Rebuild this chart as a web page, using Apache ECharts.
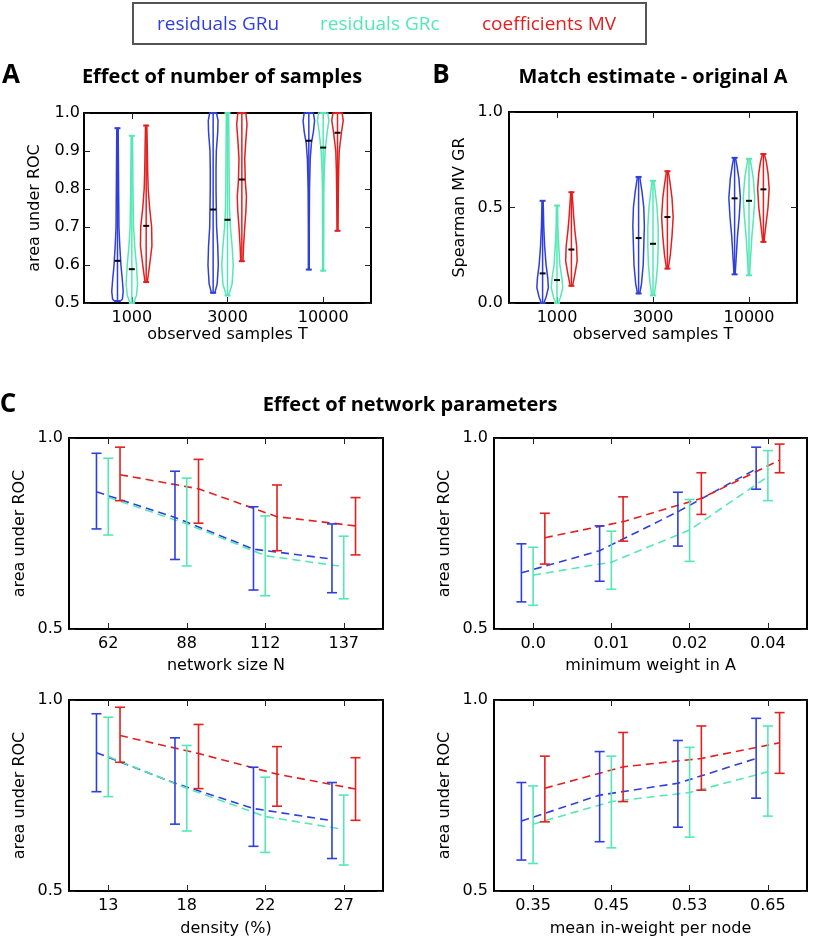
<!DOCTYPE html>
<html><head><meta charset="utf-8">
<script src="https://cdn.jsdelivr.net/npm/echarts@6/dist/echarts.min.js"></script>
<style>html,body{margin:0;padding:0;background:#fff}#c{width:816px;height:942px}</style>
</head><body><div id="c"></div>
<script>
// ---------------- DATA ----------------
const seriesNames = ['residuals GRu', 'residuals GRc', 'coefficients MV'];
const sampleCats = ['1000', '3000', '10000'];

// Panel A: area under ROC violins (median + density profile [value, relative density])
const A_GRu_median = [0.611, 0.746, 0.927];
const A_GRc_median = [0.589, 0.719, 0.909];
const A_MV_median  = [0.703, 0.825, 0.948];
const A_GRu_profile = [
  [[0.505,0.5],[0.51,0.85],[0.53,1],[0.56,0.85],[0.60,0.6],[0.65,0.4],[0.70,0.25],[0.80,0.2],[0.90,0.15],[0.96,0.12]],
  [[0.527,0.3],[0.55,0.7],[0.60,0.9],[0.65,0.8],[0.70,0.6],[0.75,0.55],[0.80,0.5],[0.85,0.5],[0.90,0.55],[0.95,0.8],[0.98,0.85],[1.0,0.6]],
  [[0.588,0.08],[0.70,0.08],[0.80,0.12],[0.88,0.25],[0.92,0.45],[0.95,0.8],[0.98,1],[1.0,0.8]]
];
const A_GRc_profile = [
  [[0.50,0.3],[0.52,0.8],[0.55,1],[0.60,0.8],[0.65,0.5],[0.70,0.3],[0.80,0.2],[0.94,0.12]],
  [[0.52,0.2],[0.55,0.8],[0.60,1],[0.65,0.8],[0.70,0.5],[0.75,0.35],[0.80,0.3],[0.90,0.25],[1.0,0.2]],
  [[0.585,0.08],[0.80,0.12],[0.85,0.2],[0.90,0.35],[0.95,0.7],[0.98,1],[1.0,0.8]]
];
const A_MV_profile = [
  [[0.555,0.2],[0.60,0.6],[0.65,1],[0.70,0.95],[0.75,0.6],[0.80,0.35],[0.85,0.25],[0.90,0.2],[0.967,0.12]],
  [[0.61,0.2],[0.65,0.3],[0.70,0.5],[0.74,0.7],[0.78,0.8],[0.82,0.6],[0.88,0.5],[0.93,0.7],[0.97,0.9],[1.0,0.7]],
  [[0.69,0.08],[0.80,0.15],[0.85,0.2],[0.90,0.3],[0.95,0.7],[0.98,1],[1.0,0.8]]
];

// Panel B: Spearman MV GR violins
const B_GRu_median = [0.155, 0.340, 0.548];
const B_GRc_median = [0.120, 0.310, 0.535];
const B_MV_median  = [0.280, 0.450, 0.595];
const B_GRu_profile = [
  [[0.0,0.2],[0.03,0.6],[0.08,1],[0.13,0.9],[0.20,0.6],[0.30,0.35],[0.40,0.2],[0.535,0.1]],
  [[0.05,0.2],[0.10,0.5],[0.20,0.8],[0.30,0.9],[0.40,1],[0.50,0.9],[0.58,0.6],[0.66,0.2]],
  [[0.15,0.1],[0.25,0.3],[0.35,0.5],[0.45,0.8],[0.55,1],[0.65,0.75],[0.72,0.4],[0.76,0.15]]
];
const B_GRc_profile = [
  [[0.0,0.2],[0.03,0.6],[0.08,1],[0.13,0.85],[0.20,0.5],[0.30,0.3],[0.40,0.15],[0.51,0.1]],
  [[0.04,0.2],[0.10,0.5],[0.20,0.8],[0.30,0.9],[0.40,0.9],[0.50,0.7],[0.58,0.4],[0.64,0.15]],
  [[0.145,0.1],[0.25,0.3],[0.35,0.5],[0.45,0.8],[0.55,1],[0.65,0.75],[0.72,0.4],[0.755,0.15]]
];
const B_MV_profile = [
  [[0.09,0.2],[0.15,0.6],[0.22,1],[0.30,0.9],[0.38,0.6],[0.45,0.4],[0.52,0.25],[0.58,0.1]],
  [[0.18,0.15],[0.25,0.5],[0.35,0.8],[0.45,1],[0.55,0.8],[0.62,0.5],[0.69,0.15]],
  [[0.32,0.1],[0.40,0.4],[0.50,0.8],[0.60,1],[0.68,0.8],[0.74,0.5],[0.78,0.15]]
];

// Panel C: network size N
const sizeCats = ['62', '88', '112', '137'];
const size_GRu_mean = [0.859, 0.792, 0.709, 0.683];
const size_GRu_low  = [0.762, 0.682, 0.602, 0.595];
const size_GRu_high = [0.960, 0.913, 0.820, 0.775];
const size_GRc_mean = [0.845, 0.775, 0.692, 0.663];
const size_GRc_low  = [0.746, 0.665, 0.587, 0.579];
const size_GRc_high = [0.947, 0.895, 0.796, 0.743];
const size_MV_mean  = [0.904, 0.867, 0.794, 0.770];
const size_MV_low   = [0.836, 0.777, 0.705, 0.694];
const size_MV_high  = [0.976, 0.944, 0.877, 0.844];

// Panel C: minimum weight in A
const minwCats = ['0.0', '0.01', '0.02', '0.04'];
const minw_GRu_mean = [0.647, 0.705, 0.807, 0.919];
const minw_GRu_low  = [0.571, 0.625, 0.717, 0.866];
const minw_GRu_high = [0.723, 0.770, 0.858, 0.976];
const minw_GRc_mean = [0.641, 0.675, 0.759, 0.899];
const minw_GRc_low  = [0.562, 0.604, 0.677, 0.836];
const minw_GRc_high = [0.714, 0.756, 0.839, 0.967];
const minw_MV_mean  = [0.739, 0.781, 0.842, 0.942];
const minw_MV_low   = [0.670, 0.730, 0.800, 0.909];
const minw_MV_high  = [0.803, 0.846, 0.909, 0.984];

// Panel C: density (%)
const densCats = ['13', '18', '22', '27'];
const dens_GRu_mean = [0.862, 0.782, 0.716, 0.684];
const dens_GRu_low  = [0.760, 0.675, 0.617, 0.585];
const dens_GRu_high = [0.964, 0.901, 0.824, 0.784];
const dens_GRc_mean = [0.852, 0.769, 0.695, 0.661];
const dens_GRc_low  = [0.747, 0.657, 0.601, 0.568];
const dens_GRc_high = [0.955, 0.881, 0.798, 0.751];
const dens_MV_mean  = [0.907, 0.860, 0.806, 0.767];
const dens_MV_low   = [0.837, 0.768, 0.722, 0.685];
const dens_MV_high  = [0.981, 0.936, 0.878, 0.849];

// Panel C: mean in-weight per node
const inwCats = ['0.35', '0.45', '0.53', '0.65'];
const inw_GRu_mean = [0.683, 0.751, 0.782, 0.847];
const inw_GRu_low  = [0.581, 0.629, 0.667, 0.743];
const inw_GRu_high = [0.784, 0.865, 0.894, 0.952];
const inw_GRc_mean = [0.675, 0.734, 0.758, 0.812];
const inw_GRc_low  = [0.572, 0.613, 0.641, 0.696];
const inw_GRc_high = [0.775, 0.853, 0.876, 0.932];
const inw_MV_mean  = [0.769, 0.825, 0.847, 0.888];
const inw_MV_low   = [0.681, 0.734, 0.764, 0.808];
const inw_MV_high  = [0.853, 0.915, 0.932, 0.967];

// ---------------- STYLE ----------------
const COLORS = ['#2f3fdc', '#55e8b4', '#e3201f'];
const OFFSETS = [-0.15, 0, 0.15];
const AX_FONT = 'DejaVu Sans';
const AX_SIZE = 16;
const TITLE_FONT = 'Open Sans';

const grids = [
  {left: 84, top: 113, width: 287, height: 190},
  {left: 509, top: 112, width: 288, height: 191},
  {left: 69, top: 438, width: 314, height: 191},
  {left: 494, top: 438, width: 313, height: 191},
  {left: 69, top: 700, width: 314, height: 191},
  {left: 494, top: 700, width: 313, height: 191}
];

const xAxes = [], yAxes = [], series = [];
const axLine = {show: true, onZero: false, lineStyle: {color: '#000', width: 2}};
const axTick = {show: true, inside: true, length: 6, alignWithLabel: true, interval: 0, lineStyle: {color: '#222', width: 1}};

function addAxes(gi, cats, xName, xGap, yMin, yMax, yInt, yName, yMargin) {
  xAxes.push({type: 'category', gridIndex: gi, data: cats, position: 'bottom', boundaryGap: true,
    axisLine: axLine, axisTick: axTick, splitLine: {show: false},
    axisLabel: {interval: 0, color: '#000', fontFamily: AX_FONT, fontSize: AX_SIZE, margin: 7},
    name: xName, nameLocation: 'middle', nameGap: xGap,
    nameTextStyle: {color: '#000', fontFamily: AX_FONT, fontSize: AX_SIZE}});
  xAxes.push({type: 'category', gridIndex: gi, data: cats, position: 'top', boundaryGap: true,
    axisLine: axLine, axisTick: axTick, axisLabel: {show: false}, splitLine: {show: false}});
  xAxes.push({type: 'value', gridIndex: gi, min: -0.5, max: cats.length - 0.5, show: false});
  yAxes.push({type: 'value', gridIndex: gi, min: yMin, max: yMax, interval: yInt, position: 'left',
    axisLine: axLine, axisTick: {show: true, inside: true, length: 6, lineStyle: {color: '#222', width: 1}},
    splitLine: {show: false},
    axisLabel: {color: '#000', fontFamily: AX_FONT, fontSize: AX_SIZE, margin: yMargin, formatter: v => v.toFixed(1)},
    name: yName, nameLocation: 'middle', nameGap: 41,
    nameTextStyle: {color: '#000', fontFamily: AX_FONT, fontSize: AX_SIZE}});
  yAxes.push({type: 'value', gridIndex: gi, min: yMin, max: yMax, interval: yInt, position: 'right',
    axisLine: axLine, axisTick: {show: true, inside: true, length: 6, lineStyle: {color: '#222', width: 1}},
    splitLine: {show: false}, axisLabel: {show: false}});
}

function addViolins(gi, cats, medians, profiles) {
  for (let s = 0; s < 3; s++) {
    const prof = profiles[s];
    const color = COLORS[s];
    series.push({
      type: 'custom', name: seriesNames[s], xAxisIndex: gi * 3 + 2, yAxisIndex: gi * 2,
      clip: false,
      data: cats.map((c, i) => [i + OFFSETS[s], medians[s][i]]),
      encode: {x: 0, y: 1},
      renderItem: function (params, api) {
        const p = prof[params.dataIndex];
        const xc = api.value(0);
        const half = api.size([1, 0])[0] * 0.06;
        const left = [], right = [];
        p.forEach(([v, w]) => {
          const pt = api.coord([xc, v]);
          left.push([pt[0] - w * half, pt[1]]);
          right.push([pt[0] + w * half, pt[1]]);
        });
        const pts = left.concat(right.reverse());
        const bot = api.coord([xc, p[0][0]]);
        const top = api.coord([xc, p[p.length - 1][0]]);
        const med = api.coord([xc, api.value(1)]);
        return {type: 'group', children: [
          {type: 'polygon', shape: {points: pts}, style: {fill: 'rgba(0,0,0,0)', stroke: color, lineWidth: 1.5}},
          {type: 'line', shape: {x1: bot[0], y1: bot[1], x2: top[0], y2: top[1]}, style: {stroke: color, lineWidth: 1.5}},
          {type: 'line', shape: {x1: bot[0] - 3, y1: bot[1], x2: bot[0] + 3, y2: bot[1]}, style: {stroke: color, lineWidth: 2}},
          {type: 'line', shape: {x1: top[0] - 3, y1: top[1], x2: top[0] + 3, y2: top[1]}, style: {stroke: color, lineWidth: 2}},
          {type: 'line', shape: {x1: med[0] - 3, y1: med[1], x2: med[0] + 3, y2: med[1]}, style: {stroke: '#000', lineWidth: 2}}
        ]};
      }
    });
  }
}

function addErrorPanel(gi, cats, means, lows, highs) {
  for (let s = 0; s < 3; s++) {
    const color = COLORS[s];
    series.push({
      type: 'line', name: seriesNames[s], xAxisIndex: gi * 3 + 2, yAxisIndex: gi * 2,
      data: cats.map((c, i) => [i + OFFSETS[s], means[s][i]]),
      symbol: 'none', lineStyle: {color: color, width: 1.6, type: [8, 5]}, z: 2, silent: true
    });
    series.push({
      type: 'custom', name: seriesNames[s], xAxisIndex: gi * 3 + 2, yAxisIndex: gi * 2,
      data: cats.map((c, i) => [i + OFFSETS[s], lows[s][i], highs[s][i]]),
      encode: {x: 0, y: [1, 2]}, z: 3,
      renderItem: function (params, api) {
        const x = api.value(0);
        const lo = api.coord([x, api.value(1)]);
        const hi = api.coord([x, api.value(2)]);
        const cap = 5;
        return {type: 'group', children: [
          {type: 'line', shape: {x1: lo[0], y1: lo[1], x2: hi[0], y2: hi[1]}, style: {stroke: color, lineWidth: 1.6}},
          {type: 'line', shape: {x1: lo[0] - cap, y1: lo[1], x2: lo[0] + cap, y2: lo[1]}, style: {stroke: color, lineWidth: 1.6}},
          {type: 'line', shape: {x1: hi[0] - cap, y1: hi[1], x2: hi[0] + cap, y2: hi[1]}, style: {stroke: color, lineWidth: 1.6}}
        ]};
      }
    });
  }
}

addAxes(0, sampleCats, 'observed samples T', 22, 0.5, 1.0, 0.1, 'area under ROC', 4);
addViolins(0, sampleCats, [A_GRu_median, A_GRc_median, A_MV_median], [A_GRu_profile, A_GRc_profile, A_MV_profile]);
addAxes(1, sampleCats, 'observed samples T', 22, 0, 1.0, 0.5, 'Spearman MV GR', 6);
addViolins(1, sampleCats, [B_GRu_median, B_GRc_median, B_MV_median], [B_GRu_profile, B_GRc_profile, B_MV_profile]);
addAxes(2, sizeCats, 'network size N', 29, 0.5, 1.0, 0.5, 'area under ROC', 6);
addErrorPanel(2, sizeCats, [size_GRu_mean, size_GRc_mean, size_MV_mean], [size_GRu_low, size_GRc_low, size_MV_low], [size_GRu_high, size_GRc_high, size_MV_high]);
addAxes(3, minwCats, 'minimum weight in A', 29, 0.5, 1.0, 0.5, 'area under ROC', 6);
addErrorPanel(3, minwCats, [minw_GRu_mean, minw_GRc_mean, minw_MV_mean], [minw_GRu_low, minw_GRc_low, minw_MV_low], [minw_GRu_high, minw_GRc_high, minw_MV_high]);
addAxes(4, densCats, 'density (%)', 30, 0.5, 1.0, 0.5, 'area under ROC', 6);
addErrorPanel(4, densCats, [dens_GRu_mean, dens_GRc_mean, dens_MV_mean], [dens_GRu_low, dens_GRc_low, dens_MV_low], [dens_GRu_high, dens_GRc_high, dens_MV_high]);
addAxes(5, inwCats, 'mean in-weight per node', 30, 0.5, 1.0, 0.5, 'area under ROC', 6);
addErrorPanel(5, inwCats, [inw_GRu_mean, inw_GRc_mean, inw_MV_mean], [inw_GRu_low, inw_GRc_low, inw_MV_low], [inw_GRu_high, inw_GRc_high, inw_MV_high]);

function txt(x, y, text, size, weight, color, align) {
  return {type: 'text', x: x, y: y, style: {text: text, fontFamily: TITLE_FONT, fontSize: size, fontWeight: weight,
    fill: color || '#000', textAlign: align || 'center', textVerticalAlign: 'middle'}};
}

const graphic = [
  {type: 'rect', shape: {x: 133, y: 3, width: 513, height: 41}, style: {fill: '#fff', stroke: '#555', lineWidth: 2}},
  txt(157, 25, seriesNames[0], 19, 'normal', COLORS[0], 'left'),
  txt(320, 25, seriesNames[1], 19, 'normal', COLORS[1], 'left'),
  txt(482, 25, seriesNames[2], 19, 'normal', COLORS[2], 'left'),
  txt(11, 76, 'A', 26, 'bold'),
  txt(222, 77, 'Effect of number of samples', 20, 'bold'),
  txt(441, 76, 'B', 26, 'bold'),
  txt(653, 77, 'Match estimate - original A', 20, 'bold'),
  txt(8, 405, 'C', 26, 'bold'),
  txt(410, 405, 'Effect of network parameters', 20, 'bold')
];

const chart = echarts.init(document.getElementById('c'), null, {renderer: 'canvas'});
chart.setOption({
  animation: false,
  backgroundColor: '#fff',
  grid: grids,
  xAxis: xAxes,
  yAxis: yAxes,
  series: series,
  graphic: graphic
});
</script></body></html>
